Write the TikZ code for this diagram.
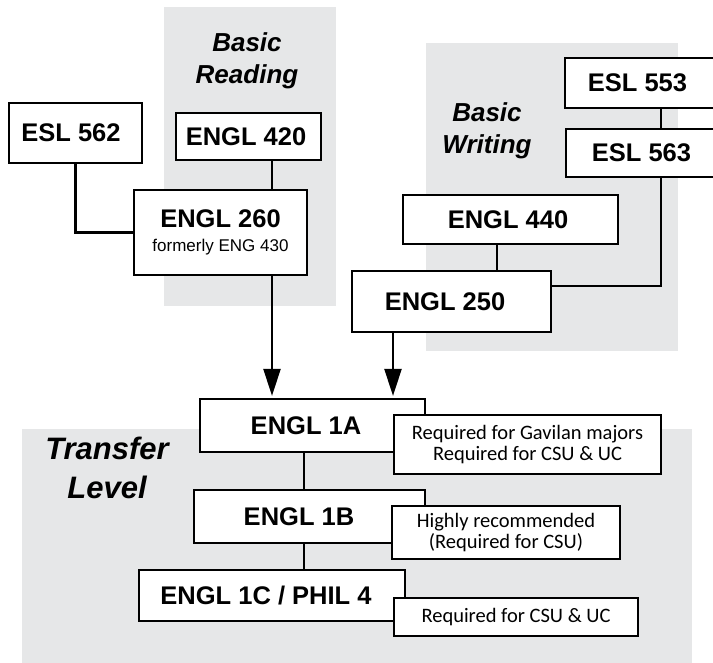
\documentclass[tikz,border=0pt]{standalone}
\usepackage{fontspec}
\setmainfont{Liberation Sans}
\newfontfamily\notefont{Carlito}
\usetikzlibrary{arrows.meta}
\definecolor{regiongray}{RGB}{230,231,232}

\tikzset{
  course/.style={draw, line width=2.2pt, fill=white, inner sep=0pt,
    font=\fontsize{25.5}{28}\selectfont\bfseries},
  note/.style={draw, line width=2.2pt, fill=white, inner sep=0pt, align=center,
    font=\fontsize{20.5}{21}\selectfont\notefont},
  heading/.style={align=center, font=\fontsize{26}{32}\selectfont\bfseries\itshape},
  link/.style={line width=2.2pt},
  down/.style={link, -{Triangle[length=27pt,width=17pt]}, shorten >=2pt}
}

\begin{document}
\begin{tikzpicture}[x=1pt, y=-1pt]
  \useasboundingbox (0,0) rectangle (713,663);
  \clip (0,0) rectangle (713,663);
  % shaded levels
  \fill[regiongray] (164,7) rectangle (336,306);
  \fill[regiongray] (426,43) rectangle (678,351);
  \fill[regiongray] (22,429) rectangle (692,663);
  \node[heading] (reading) at (247,61) {Basic\\Reading};
  \node[heading] (writing) at (487,131) {Basic\\Writing};
  \node[heading, font=\fontsize{31}{39}\selectfont\bfseries\itshape] (transfer) at (107,468) {Transfer\\Level};

  % course boxes
  \foreach \name/\x/\y/\w/\h/\dx/\txt in {
      esl562/75.5/133/133/60/-4.5/ESL 562,
      engl420/248.5/136.5/145/47/-2.5/ENGL 420,
      esl553/642.5/83/155/50/-5/ESL 553,
      esl563/643/153/154/48/-1.5/ESL 563,
      engl440/510.5/219.5/215/49/-2.5/ENGL 440,
      engl250/451.5/301.5/199/61/-6.5/ENGL 250,
      engl1a/312.5/425.5/225/53/-6.5/ENGL 1A,
      engl1b/309.5/516.5/231/53/-10.5/ENGL 1B,
      engl1c/272/595.5/266/51/-6/{ENGL 1C / PHIL 4}} {
    \node[course, minimum width=\w pt, minimum height=\h pt] (\name) at (\x,\y)
      {\kern\dx pt\txt\kern-\dx pt};
  }
  \node[course, align=center, minimum width=173pt, minimum height=85pt] (engl260) at (220.5,232.5)
    {ENGL 260\\[-4pt]{\mdseries\fontsize{17}{20}\selectfont formerly ENG 430}};

  % notes
  \node[note, minimum width=267pt, minimum height=59pt] (note1a) at (527.5,444.5)
    {Required for Gavilan majors\\Required for CSU \& UC};
  \node[note, minimum width=228pt, minimum height=53pt] (note1b) at (506,532.5)
    {Highly recommended\\(Required for CSU)};
  \node[note, minimum width=244pt, minimum height=38pt] (note1c) at (516,617)
    {Required for CSU \& UC};

  \coordinate (readrail) at (272,0);
  \coordinate (eslrail) at (661,286);
  \coordinate (wrtrail) at (497,0);
  \coordinate (drop) at (393,0);
  \coordinate (spine) at (304,0);

  \draw[link] (esl562.south) |- (engl260.west);
  \draw[link] (engl420.south -| readrail) -- (engl260.north -| readrail);
  \draw[link] (esl553.south -| eslrail) -- (esl563.north -| eslrail);
  \draw[link] (esl563.south -| eslrail) |- (eslrail -| engl250.east);
  \draw[link] (engl440.south -| wrtrail) -- (engl250.north -| wrtrail);
  \draw[down] (engl260.south -| readrail) -- (engl1a.north -| readrail);
  \draw[down] (engl250.south -| drop) -- (engl1a.north -| drop);
  \draw[link] (engl1a.south -| spine) -- (engl1b.north -| spine);
  \draw[link] (engl1b.south -| spine) -- (engl1c.north -| spine);
\end{tikzpicture}
\end{document}
